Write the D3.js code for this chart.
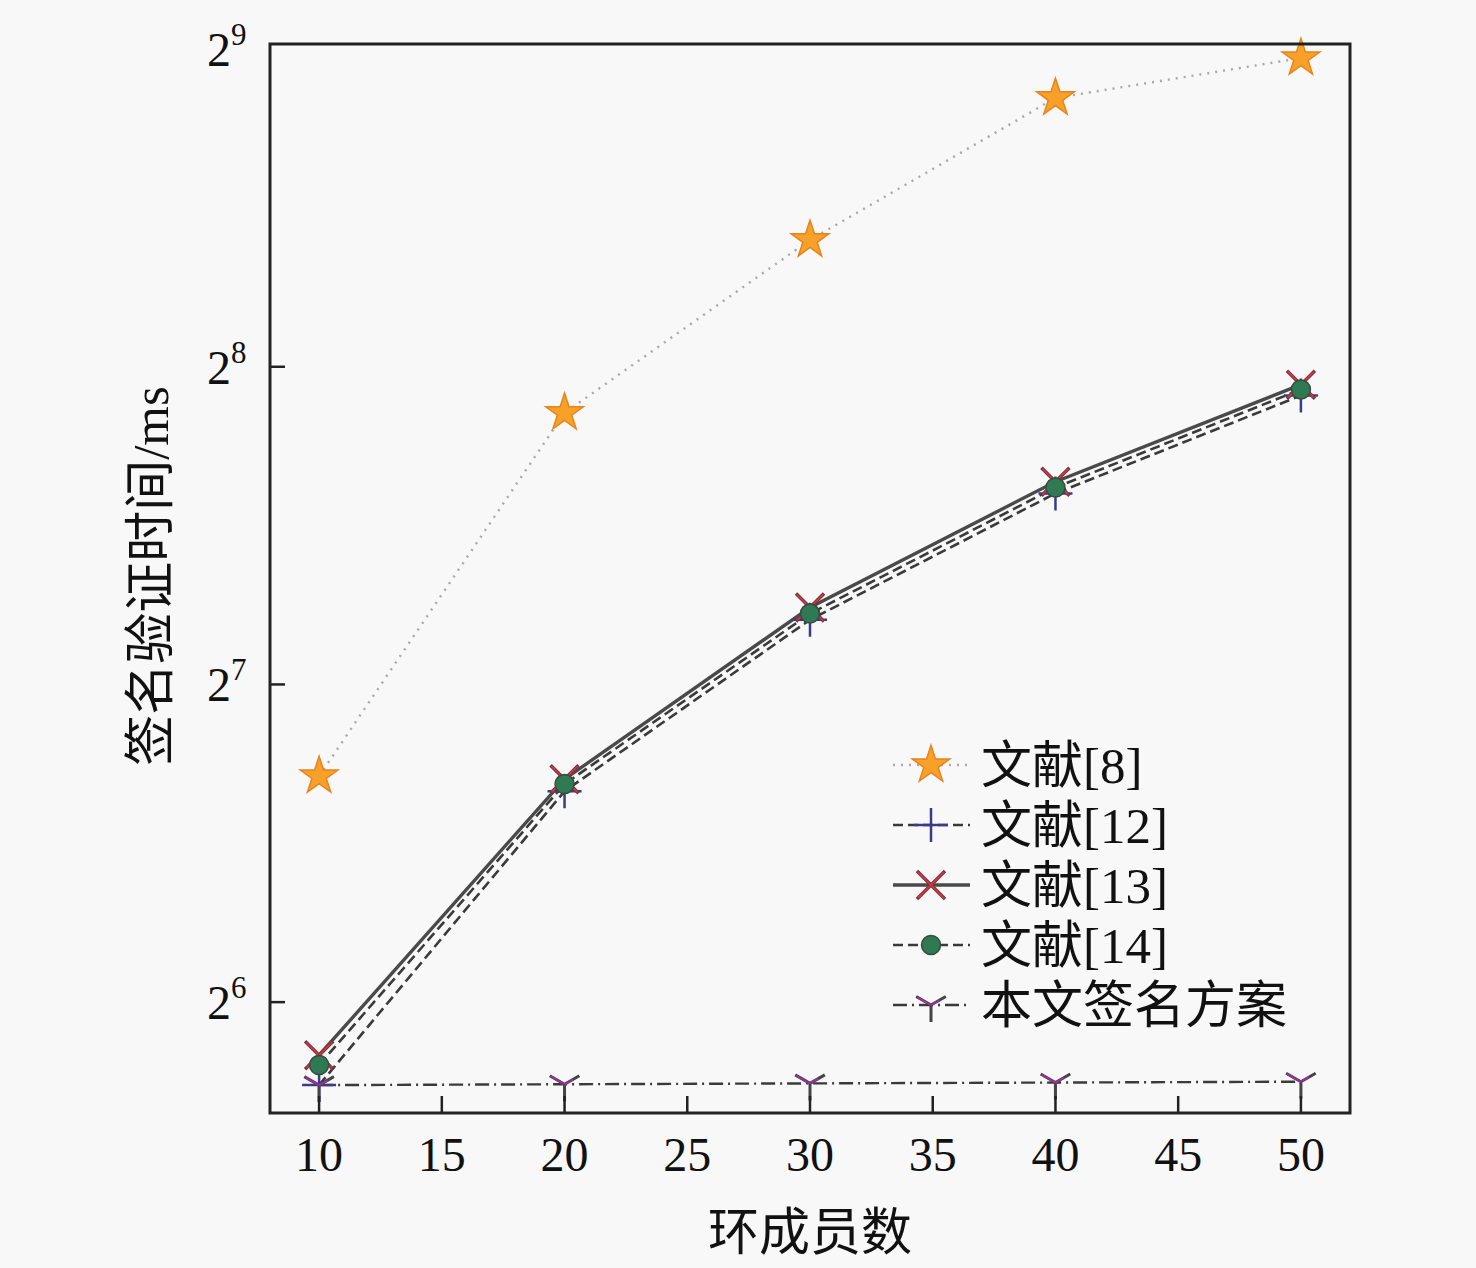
<!DOCTYPE html>
<html>
<head>
<meta charset="utf-8">
<script src="https://cdn.jsdelivr.net/npm/d3@7"></script>
<style>
  body { margin: 0; background: #f8f8f8; }
  svg { display: block; }
</style>
</head>
<body>
<div id="chart"></div>
<script>
// ring member counts
const members = [10, 20, 30, 40, 50];
const xTicks = [10, 15, 20, 25, 30, 35, 40, 45, 50];
const yPowers = [6, 7, 8, 9];

// verification time in ms
const ref8 = [104.8, 231.5, 337.6, 460.2, 502.0];
const ref12 = [53.4, 101.4, 147.4, 194.2, 240.4];
const ref13 = [57.0, 104.1, 151.4, 199.2, 246.2];
const ref14 = [55.8, 103.0, 149.4, 196.7, 243.6];
const ours = [53.4, 53.5, 53.6, 53.7, 53.8];

const seriesNames = ["文献[8]", "文献[12]", "文献[13]", "文献[14]", "本文签名方案"];

const W = 1476, H = 1268;
const plotLeft = 270, plotRight = 1350, plotTop = 44, plotBottom = 1113;

const svg = d3.select("#chart").append("svg")
    .attr("width", W)
    .attr("height", H);

svg.append("rect").attr("width", W).attr("height", H).attr("fill", "#f8f8f8");

const x = d3.scaleLinear().domain([8, 52]).range([plotLeft, plotRight]);
const y = d3.scaleLog().base(2)
    .domain([Math.pow(2, 5.651), Math.pow(2, 9.016)])
    .range([plotBottom, plotTop]);

const serif = "'Liberation Serif', 'DejaVu Serif', serif";
const cjk = "'Liberation Serif', 'Noto Sans CJK SC', serif";

// marker drawers
function star(g) {
    g.append("path")
        .attr("d", d3.symbol().type(d3.symbolStar).size(440)())
        .attr("fill", "#f7a12a")
        .attr("stroke", "#e8841a")
        .attr("stroke-width", 1.5);
}
function plus(g) {
    g.append("path")
        .attr("d", "M-17,0H17M0,-17V17")
        .attr("stroke", "#3d3a8a")
        .attr("stroke-width", 2.5)
        .attr("fill", "none");
}
function cross(g) {
    g.append("path")
        .attr("d", "M-14,-14L14,14M-14,14L14,-14")
        .attr("stroke", "#6a3a44")
        .attr("stroke-width", 3.5)
        .attr("fill", "none");
    g.append("path")
        .attr("d", "M-13,-13L13,13M-13,13L13,-13")
        .attr("stroke", "#e8303a")
        .attr("stroke-width", 1.5)
        .attr("fill", "none");
}
function dot(g) {
    g.append("circle")
        .attr("r", 9.5)
        .attr("fill", "#2f7a52")
        .attr("stroke", "#3a4a40")
        .attr("stroke-width", 1.5);
}
function triDown(g) {
    const r = 17;
    g.append("path")
        .attr("d", `M0,0V${r}M0,0L${-r * 0.87},${-r * 0.5}M0,0L${r * 0.87},${-r * 0.5}`)
        .attr("stroke", "#444")
        .attr("stroke-width", 3)
        .attr("fill", "none");
    g.append("path")
        .attr("d", `M0,0L${-r * 0.8},${-r * 0.45}M0,0L${r * 0.5},${-r * 0.28}`)
        .attr("stroke", "#9b2fa0")
        .attr("stroke-width", 2)
        .attr("fill", "none");
}

const series = [
    { name: seriesNames[0], values: ref8, stroke: "#a8a8a8", width: 2.4, dash: "2,6", marker: star },
    { name: seriesNames[1], values: ref12, stroke: "#3a3a3a", width: 2.6, dash: "10,5", marker: plus },
    { name: seriesNames[2], values: ref13, stroke: "#4a4a4a", width: 3.4, dash: null, marker: cross },
    { name: seriesNames[3], values: ref14, stroke: "#3a3a3a", width: 2.6, dash: "10,5", marker: dot },
    { name: seriesNames[4], values: ours, stroke: "#3a3a3a", width: 2.4, dash: "14,5,2,5", marker: triDown }
];

const line = d3.line().x(d => x(d[0])).y(d => y(d[1]));

// lines first, then markers on top
series.forEach(s => {
    svg.append("path")
        .datum(members.map((m, i) => [m, s.values[i]]))
        .attr("d", line)
        .attr("fill", "none")
        .attr("stroke", s.stroke)
        .attr("stroke-width", s.width)
        .attr("stroke-dasharray", s.dash);
});
series.forEach(s => {
    members.forEach((m, i) => {
        const g = svg.append("g").attr("transform", `translate(${x(m)},${y(s.values[i])})`);
        s.marker(g);
    });
});

// frame
svg.append("rect")
    .attr("x", plotLeft).attr("y", plotTop)
    .attr("width", plotRight - plotLeft).attr("height", plotBottom - plotTop)
    .attr("fill", "none")
    .attr("stroke", "#222")
    .attr("stroke-width", 3);

// x ticks (inward) and labels
svg.selectAll(".xtick")
    .data(xTicks)
    .enter().append("line")
    .attr("x1", d => x(d)).attr("x2", d => x(d))
    .attr("y1", plotBottom).attr("y2", plotBottom - 17)
    .attr("stroke", "#222").attr("stroke-width", 2.5);

svg.selectAll(".xlab")
    .data(xTicks)
    .enter().append("text")
    .attr("x", d => x(d))
    .attr("y", 1171)
    .attr("text-anchor", "middle")
    .style("font-family", serif)
    .style("font-size", "48px")
    .style("fill", "#111")
    .text(d => d);

// y ticks (inward) and power labels
svg.selectAll(".ytick")
    .data(yPowers.slice(0, 3))
    .enter().append("line")
    .attr("x1", plotLeft).attr("x2", plotLeft + 15)
    .attr("y1", d => y(Math.pow(2, d))).attr("y2", d => y(Math.pow(2, d)))
    .attr("stroke", "#222").attr("stroke-width", 2.5);

const ylab = svg.selectAll(".ylab")
    .data(yPowers)
    .enter().append("text")
    .attr("x", 207)
    .attr("y", d => y(Math.pow(2, d)) + 17)
    .style("font-family", serif)
    .style("font-size", "48px")
    .style("fill", "#111");
ylab.append("tspan").text("2");
ylab.append("tspan")
    .attr("dy", -21)
    .style("font-size", "31px")
    .text(d => d);

// axis titles
svg.append("text")
    .attr("x", 810)
    .attr("y", 1250)
    .attr("text-anchor", "middle")
    .style("font-family", cjk)
    .style("font-size", "51px")
    .style("fill", "#111")
    .text("环成员数");

svg.append("text")
    .attr("transform", "translate(168,576) rotate(-90)")
    .attr("text-anchor", "middle")
    .style("font-family", cjk)
    .style("font-size", "51px")
    .style("fill", "#111")
    .text("签名验证时间/ms");

// legend
const legend = svg.append("g");
series.forEach((s, i) => {
    const cy = 765 + i * 60;
    legend.append("line")
        .attr("x1", 893).attr("x2", 970)
        .attr("y1", cy).attr("y2", cy)
        .attr("stroke", s.stroke)
        .attr("stroke-width", s.width)
        .attr("stroke-dasharray", s.dash);
    const g = legend.append("g").attr("transform", `translate(931,${cy})`);
    s.marker(g);
    legend.append("text")
        .attr("x", 981)
        .attr("y", cy + 18)
        .style("font-family", cjk)
        .style("font-size", "51px")
        .style("fill", "#111")
        .text(s.name);
});
</script>
</body>
</html>
